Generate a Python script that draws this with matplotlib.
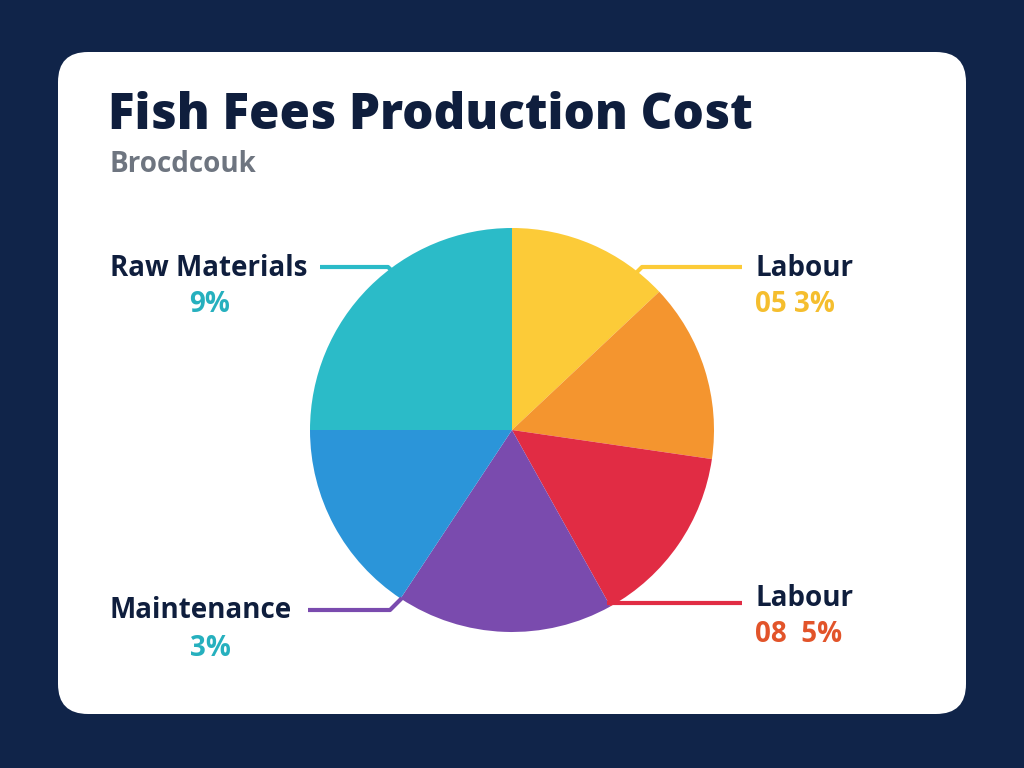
import matplotlib
matplotlib.use("Agg")
import matplotlib.pyplot as plt
from matplotlib.patches import FancyBboxPatch

# ---- data ----
slice_values = [13.0, 14.3, 14.6, 17.4, 15.7, 25.0]   # clockwise from top
slice_colors = ["#FCCB38", "#F4952F", "#E12C44", "#7A4BAE", "#2B95D9", "#2BBBC8"]

title = "Fish Fees Production Cost"
subtitle = "Brocdcouk"

callout_names = ["Raw Materials", "Labour", "Maintenance", "Labour"]
callout_values = ["9%", "05 3%", "3%", "08  5%"]
callout_value_colors = ["#26B0BE", "#F5BE2E", "#26B0BE", "#E2542A"]
callout_line_colors = ["#2BBBC8", "#FCCB38", "#7A4BAE", "#E12C44"]

BG = "#102449"
NAVY = "#0F1E3D"
H = 768

fig = plt.figure(figsize=(10.24, 7.68), dpi=100)
fig.patch.set_facecolor(BG)
ax = fig.add_axes([0, 0, 1, 1])

def Y(y):
    return H - y

# card
card = FancyBboxPatch((58, Y(714)), 908, 662,
                      boxstyle="round,pad=0,rounding_size=30",
                      facecolor="white", edgecolor="none", zorder=0)
ax.add_patch(card)

# pie
wedges, _ = ax.pie(slice_values, colors=slice_colors, startangle=90,
                   counterclock=False, center=(512, Y(430)), radius=202,
                   wedgeprops=dict(linewidth=0, edgecolor="none"))
for w in wedges:
    w.set_zorder(2)

ax.set_xlim(0, 1024)
ax.set_ylim(0, H)
ax.set_aspect("auto")
ax.axis("off")

# leader lines (pixel coordinates)
lw = 3.0
lines = [
    ([320, 388, 410], [267, 267, 288]),
    ([623, 642, 742], [286, 267, 267]),
    ([308, 390, 402], [610, 610, 598]),
    ([607, 742], [603, 603]),
]
for (xs, ys), c in zip(lines, callout_line_colors):
    ax.plot(xs, [Y(v) for v in ys], color=c, lw=lw, solid_capstyle="butt",
            solid_joinstyle="round", zorder=3)

FONT = "Open Sans"
# title/subtitle
ax.text(108, Y(116), title, fontsize=35.5, fontweight=800, color=NAVY,
        family=FONT, va="center", ha="left")
ax.text(110, Y(165), subtitle, fontsize=20, fontweight="bold", color="#6E7580",
        family=FONT, va="center", ha="left")

# callouts
name_pos = [(110, 268, "left"), (755, 268, "left"), (110, 611, "left"), (755, 598, "left")]
val_pos = [(210, 304, "center"), (755, 304, "left"), (210, 648, "center"), (755, 635, "left")]
for i in range(4):
    x, y, ha = name_pos[i]
    ax.text(x, Y(y), callout_names[i], fontsize=20, fontweight="bold",
            color=NAVY, family=FONT, va="center", ha=ha)
    x, y, ha = val_pos[i]
    ax.text(x, Y(y), callout_values[i], fontsize=20, fontweight="bold",
            color=callout_value_colors[i], family=FONT, va="center", ha=ha)

fig.savefig("out.png", dpi=100, facecolor=BG)
